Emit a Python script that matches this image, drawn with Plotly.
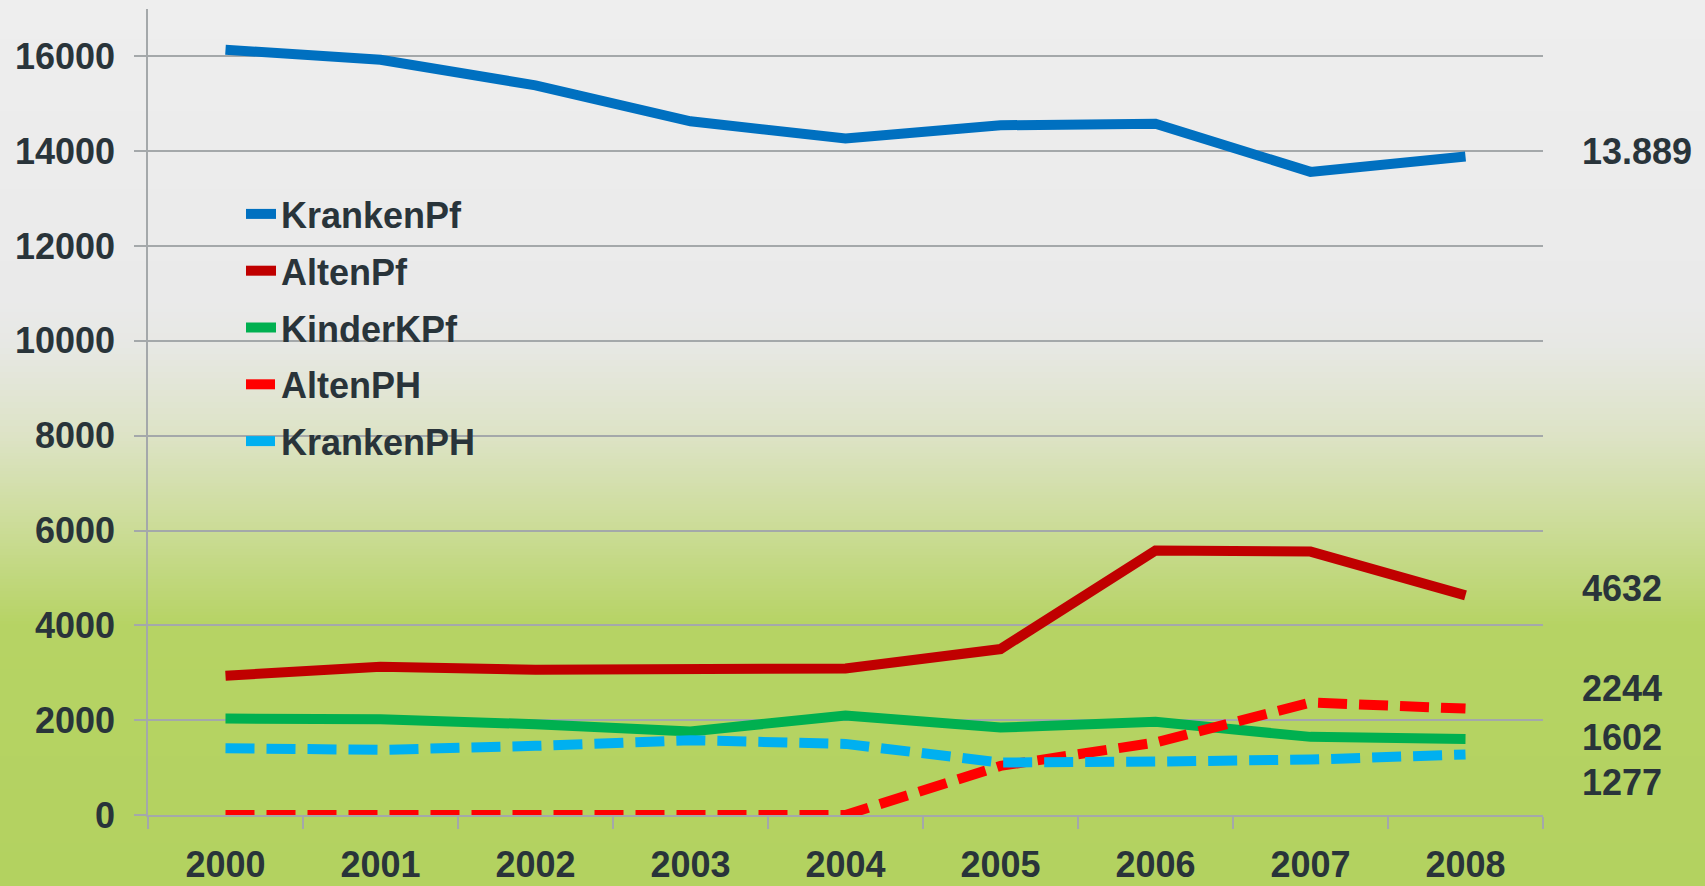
import plotly.graph_objects as go

# ---- data ----
years = ["2000", "2001", "2002", "2003", "2004", "2005", "2006", "2007", "2008"]
kranken_pf = [16140, 15930, 15389, 14632, 14267, 14547, 14582, 13565, 13889]
alten_pf = [2937, 3127, 3063, 3092, 3092, 3500, 5577, 5556, 4632]
kinder_kpf = [2035, 2021, 1915, 1761, 2100, 1845, 1965, 1648, 1602]
alten_ph = [0, 0, 0, 0, 0, 1035, 1528, 2373, 2244]
kranken_ph = [1408, 1373, 1458, 1577, 1500, 1106, 1127, 1169, 1277]

series_names = ["KrankenPf", "AltenPf", "KinderKPf", "AltenPH", "KrankenPH"]
series_values = [kranken_pf, alten_pf, kinder_kpf, alten_ph, kranken_ph]
end_labels = ["13.889", "4632", "2244", "1602", "1277"]
y_ticks = [0, 2000, 4000, 6000, 8000, 10000, 12000, 14000, 16000]
y_ticktext = ["0", "2000", "4000", "6000", "8000", "10000", "12000", "14000", "16000"]

# ---- style ----
W, H = 1705, 886
M_L, M_R, M_T, M_B = 148, 162, 9, 71
PLOT_H = H - M_T - M_B
colors = ["#0070c0", "#c00000", "#00b050", "#ff0000", "#00b0f0"]
dashes = ["solid", "solid", "solid", "29px,12px", "29px,12px"]
TEXT = "#29343a"
GRID = "#a4a8aa"
FONT = "Liberation Sans, Arial, sans-serif"
label_py = [152, 588, 688, 737, 782]   # pixel centres of the end labels
grad_stops = [(0, (238, 238, 238)), (300, (234, 234, 234)), (345, (231, 232, 228)),
              (435, (221, 227, 198)), (530, (203, 220, 150)), (625, (182, 211, 100)),
              (886, (179, 210, 96))]


def py_to_paper(py):
    return (H - M_B - py) / PLOT_H


def grad_color(py):
    for (a, ca), (b, cb) in zip(grad_stops[:-1], grad_stops[1:]):
        if a <= py <= b:
            t = (py - a) / (b - a)
            return "rgb(%d,%d,%d)" % tuple(round(ca[i] + (cb[i] - ca[i]) * t) for i in range(3))
    return "rgb(%d,%d,%d)" % grad_stops[-1][1]


fig = go.Figure()
for i, (name, vals) in enumerate(zip(series_names, series_values)):
    fig.add_trace(go.Scatter(
        x=years, y=vals, name=name, mode="lines", legendgroup=name,
        line=dict(color=colors[i], width=10, dash=dashes[i]),
    ))

shapes = []
step = 3
for py in range(0, H, step):
    shapes.append(dict(
        type="rect", xref="paper", yref="paper", layer="below",
        x0=-0.2, x1=1.3, y0=py_to_paper(py + step + 0.5), y1=py_to_paper(py),
        fillcolor=grad_color(py + step / 2), line=dict(width=0),
    ))

annotations = []
for txt, py in zip(end_labels, label_py):
    annotations.append(dict(
        text=txt, xref="paper", yref="paper", x=(1580 - M_L) / (W - M_L - M_R),
        y=py_to_paper(py), xanchor="left", yanchor="middle", showarrow=False,
        font=dict(family=FONT, size=36, color=TEXT, weight="bold"),
    ))

fig.update_layout(
    width=W, height=H,
    margin=dict(l=M_L, r=M_R, t=M_T, b=M_B, autoexpand=False),
    paper_bgcolor="#eeeeee", plot_bgcolor="rgba(0,0,0,0)",
    font=dict(family=FONT, size=36, color=TEXT, weight="bold"),
    shapes=shapes, annotations=annotations,
    showlegend=True,
    legend=dict(
        x=(241 - M_L) / (W - M_L - M_R), y=py_to_paper(184), xanchor="left", yanchor="top",
        bgcolor="rgba(0,0,0,0)", borderwidth=0, tracegroupgap=7,
        font=dict(family=FONT, size=36, color=TEXT, weight="bold"),
    ),
    xaxis=dict(
        type="category", tickson="boundaries", ticks="outside", ticklen=12,
        tickcolor=GRID, tickwidth=1.5, showgrid=False, showline=True,
        linecolor=GRID, linewidth=1.5, ticklabelstandoff=17, automargin=False,
        tickfont=dict(family=FONT, size=36, color=TEXT, weight="bold"),
        range=[-0.5, 8.5],
    ),
    yaxis=dict(
        range=[0, 17000], tickvals=y_ticks, ticktext=y_ticktext, ticks="outside", ticklen=12,
        tickcolor=GRID, tickwidth=1.5, showgrid=True, gridcolor=GRID, gridwidth=1.5,
        showline=True, linecolor=GRID, linewidth=1.5, zeroline=False,
        ticklabelstandoff=12, automargin=False,
        tickfont=dict(family=FONT, size=36, color=TEXT, weight="bold"),
    ),
)

fig.write_html(
    "out.html",
    config={"displayModeBar": False},
    post_script="document.body.style.margin='0';document.body.style.overflow='hidden';",
)
